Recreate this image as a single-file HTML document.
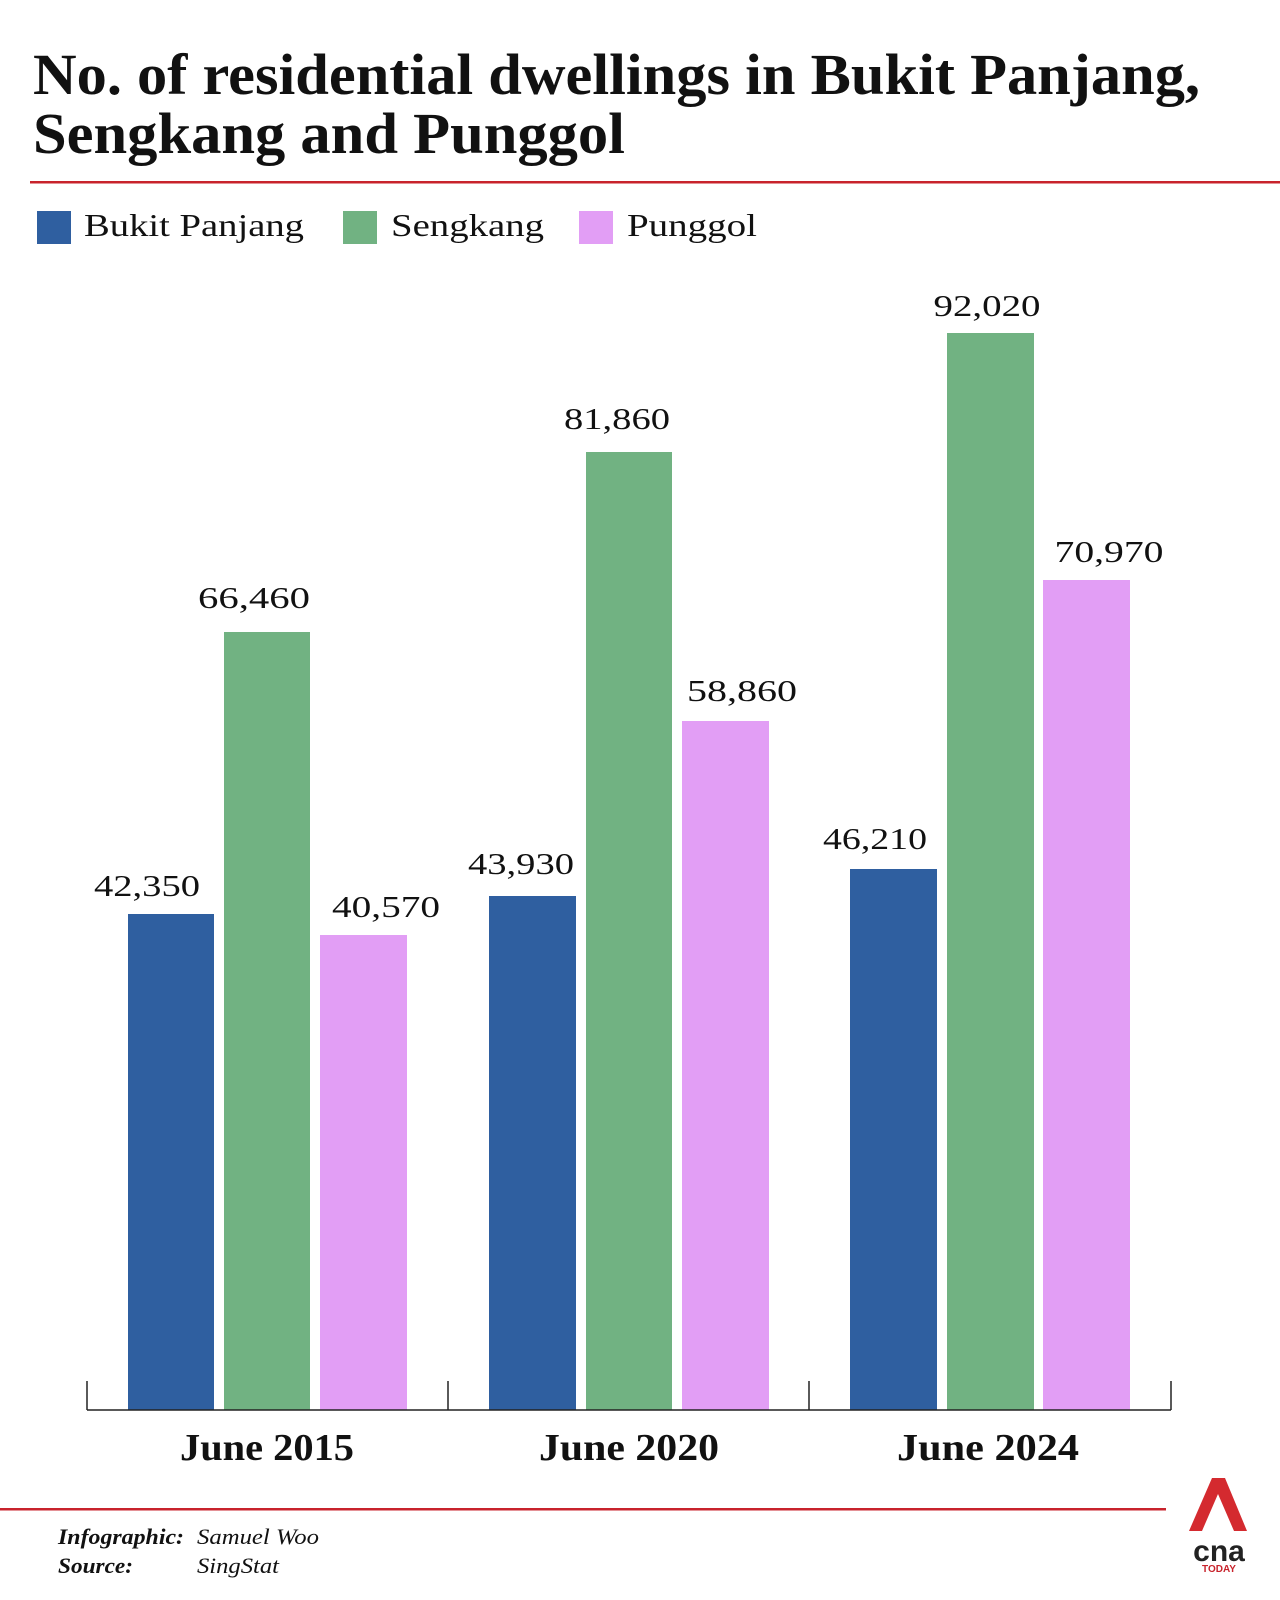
<!DOCTYPE html>
<html><head><meta charset="utf-8"><style>
html,body{margin:0;padding:0;background:#fff;}
svg{display:block;}
</style></head><body>
<svg width="1280" height="1600" viewBox="0 0 1280 1600" xmlns="http://www.w3.org/2000/svg">
<rect width="1280" height="1600" fill="#fff"/>
<g font-family="Liberation Serif, serif" font-weight="bold" fill="#111" font-size="58">
<text x="33" y="94" textLength="1167" lengthAdjust="spacingAndGlyphs">No. of residential dwellings in Bukit Panjang,</text>
<text x="33" y="153" textLength="592" lengthAdjust="spacingAndGlyphs">Sengkang and Punggol</text>
</g>
<rect x="30" y="181" width="1250" height="2.5" fill="#c8232c"/>
<rect x="37" y="211" width="34" height="33" fill="#2f5fa0"/>
<rect x="343" y="211" width="34" height="33" fill="#71b282"/>
<rect x="579" y="211" width="34" height="33" fill="#e29ef5"/>
<g font-family="Liberation Serif, serif" font-size="32" fill="#111">
<text x="84" y="236" textLength="220" lengthAdjust="spacingAndGlyphs">Bukit Panjang</text>
<text x="391" y="236" textLength="153" lengthAdjust="spacingAndGlyphs">Sengkang</text>
<text x="627" y="236" textLength="130" lengthAdjust="spacingAndGlyphs">Punggol</text>
</g>
<g>
<rect x="128" y="914" width="86" height="496" fill="#2f5fa0"/>
<rect x="224" y="632" width="86" height="778" fill="#71b282"/>
<rect x="320" y="935" width="87" height="475" fill="#e29ef5"/>
<rect x="489" y="896" width="87" height="514" fill="#2f5fa0"/>
<rect x="586" y="452" width="86" height="958" fill="#71b282"/>
<rect x="682" y="721" width="87" height="689" fill="#e29ef5"/>
<rect x="850" y="869" width="87" height="541" fill="#2f5fa0"/>
<rect x="947" y="333" width="87" height="1077" fill="#71b282"/>
<rect x="1043" y="580" width="87" height="830" fill="#e29ef5"/>
</g>
<g font-family="Liberation Serif, serif" font-size="31" fill="#111" text-anchor="middle">
<text x="147" y="896" textLength="106" lengthAdjust="spacingAndGlyphs">42,350</text>
<text x="254" y="608" textLength="112" lengthAdjust="spacingAndGlyphs">66,460</text>
<text x="386" y="917" textLength="108" lengthAdjust="spacingAndGlyphs">40,570</text>
<text x="521" y="874" textLength="106" lengthAdjust="spacingAndGlyphs">43,930</text>
<text x="617" y="429" textLength="106" lengthAdjust="spacingAndGlyphs">81,860</text>
<text x="742" y="701" textLength="110" lengthAdjust="spacingAndGlyphs">58,860</text>
<text x="875" y="849" textLength="104" lengthAdjust="spacingAndGlyphs">46,210</text>
<text x="987" y="316" textLength="107" lengthAdjust="spacingAndGlyphs">92,020</text>
<text x="1109" y="562" textLength="109" lengthAdjust="spacingAndGlyphs">70,970</text>
</g>
<g stroke="#222" stroke-width="1.5" fill="none">
<line x1="87" y1="1410" x2="1171" y2="1410"/>
<line x1="87" y1="1381" x2="87" y2="1410"/>
<line x1="448" y1="1381" x2="448" y2="1410"/>
<line x1="809" y1="1381" x2="809" y2="1410"/>
<line x1="1171" y1="1381" x2="1171" y2="1410"/>
</g>
<g font-family="Liberation Serif, serif" font-weight="bold" font-size="38" fill="#111" text-anchor="middle">
<text x="267" y="1460" textLength="174" lengthAdjust="spacingAndGlyphs">June 2015</text>
<text x="629" y="1460" textLength="180" lengthAdjust="spacingAndGlyphs">June 2020</text>
<text x="988" y="1460" textLength="182" lengthAdjust="spacingAndGlyphs">June 2024</text>
</g>
<rect x="0" y="1508" width="1166" height="2.5" fill="#c8232c"/>
<g font-family="Liberation Serif, serif" font-style="italic" font-size="22" fill="#111">
<text x="58" y="1544" font-weight="bold" textLength="126" lengthAdjust="spacingAndGlyphs">Infographic:</text>
<text x="197" y="1544" textLength="122" lengthAdjust="spacingAndGlyphs">Samuel Woo</text>
<text x="58" y="1573" font-weight="bold" textLength="75" lengthAdjust="spacingAndGlyphs">Source:</text>
<text x="197" y="1573" textLength="82" lengthAdjust="spacingAndGlyphs">SingStat</text>
</g>
<polygon points="1212,1478 1225,1478 1247,1531 1234,1531 1218,1494 1202,1531 1189,1531" fill="#d42a2f"/>
<text x="1219" y="1561" font-family="Liberation Sans, sans-serif" font-weight="bold" font-size="30" fill="#222" text-anchor="middle">cna</text>
<text x="1219" y="1572" font-family="Liberation Sans, sans-serif" font-weight="bold" font-size="10" fill="#c8232c" text-anchor="middle">TODAY</text>
</svg>
</body></html>
